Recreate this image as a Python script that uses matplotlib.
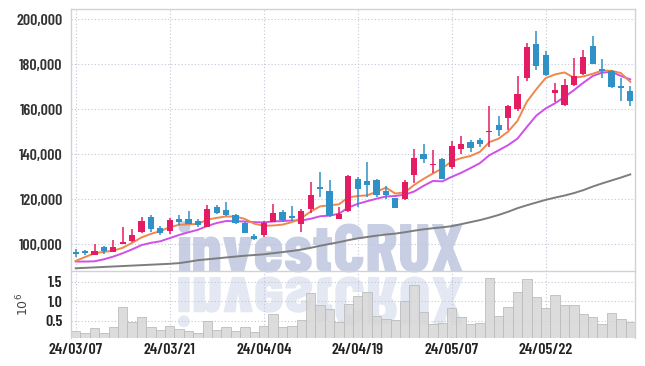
import numpy as np
import matplotlib
matplotlib.use('Agg')
import matplotlib.pyplot as plt
from matplotlib import font_manager
from matplotlib.textpath import TextPath
from matplotlib.patches import PathPatch
from matplotlib.font_manager import FontProperties
from matplotlib.transforms import Affine2D

# daily candles, 2024/03/07 .. 2024/06/04 (KRW)
opens = [96430, 97020, 95100, 98800, 96730, 100280, 101610, 105610, 112280, 107100,
         106060, 111240, 111240, 110210, 107840, 116430, 115240, 113020, 109320, 103840,
         104000, 110060, 114350, 112580, 108890, 115690, 125610, 123690, 111240, 114950,
         129020, 128130, 128570, 123690, 120440, 120000, 130650, 140130, 135090, 137910,
         134500, 142200, 145460, 146350, 149610, 153020, 155980, 159980, 173760, 189010,
         184130, 167090, 161900, 170500, 175680, 188120, 177760, 176720, 170350, 168130]
highs = [97760, 97460, 99990, 99100, 101760, 107540, 106950, 111990, 113170, 108130,
         111540, 113020, 114950, 111240, 117470, 117470, 118950, 113470, 109760, 104580,
         110490, 117910, 115240, 117020, 115540, 127830, 132000, 128570, 116440, 130800,
         130060, 136440, 128900, 126060, 120600, 128570, 142200, 144570, 141910, 138300,
         145610, 147830, 146350, 147090, 161160, 157020, 161900, 174500, 189310, 194490,
         185600, 171530, 173310, 182650, 186350, 192570, 182200, 177460, 173760, 170350]
lows = [94500, 95400, 95100, 95690, 96580, 99990, 100870, 105170, 105470, 104280,
        104580, 108580, 108980, 107840, 107690, 113470, 112580, 108870, 104870, 101910,
        103380, 109760, 110060, 110500, 105330, 113780, 120890, 112000, 111240, 114500,
        116720, 121000, 121170, 120130, 116280, 119690, 127110, 135980, 131540, 129020,
        133320, 140130, 141160, 143090, 143090, 148130, 150500, 158940, 172270, 177460,
        174500, 162940, 161160, 170200, 175240, 179900, 173760, 169300, 163680, 161460]
closes = [95700, 95990, 96880, 97020, 98800, 101170, 104280, 110500, 106650, 104870,
          110800, 109760, 109170, 108720, 115690, 113760, 113020, 109610, 105170, 102210,
          109500, 114060, 110800, 111540, 114800, 121910, 124430, 112580, 113470, 130350,
          124580, 126350, 121910, 121910, 116280, 127830, 138300, 137760, 135540, 129020,
          143690, 144570, 142940, 144570, 150350, 150500, 161160, 166800, 187530, 178940,
          175240, 168270, 170790, 174790, 183090, 180130, 176870, 169610, 169460, 163380]

ma_short = [92600, 94300, 96000, 96600, 97100, 98400, 100600, 103000, 104600, 105800,
            107600, 108600, 108800, 109000, 110900, 111700, 112300, 112300, 111200, 109100,
            108200, 108300, 108700, 109800, 111600, 114500, 116800, 117300, 117700, 120800,
            121400, 121700, 123300, 125100, 122500, 123000, 126300, 129000, 131400, 133700,
            136800, 138200, 139200, 141000, 145300, 146900, 150000, 154800, 163300, 168800,
            173800, 175400, 176300, 173900, 174500, 175700, 177100, 177000, 176000, 172100]
ma_mid = [92300, 92300, 92400, 93300, 94500, 96000, 97700, 99600, 100600, 101300,
          102700, 104100, 105300, 106400, 108100, 109400, 110300, 110200, 110100, 109800,
          109700, 110100, 110300, 110500, 110500, 111300, 112400, 112700, 113500, 116300,
          117900, 119100, 120200, 121200, 121400, 122000, 123400, 125900, 128100, 127900,
          129900, 131700, 133800, 136000, 139500, 141700, 144000, 146900, 152100, 157100,
          160300, 162600, 165400, 168400, 171700, 174700, 176200, 176500, 174700, 173200]
ma_long = [89300, 89500, 89700, 89900, 90100, 90300, 90500, 90700, 90900, 91100,
           91300, 91600, 92200, 92900, 93300, 93700, 94100, 94500, 94900, 95200,
           95500, 96000, 96500, 97000, 97600, 98400, 99300, 100100, 100900, 101800,
           102600, 103200, 103800, 104300, 104700, 105300, 106000, 106600, 107100, 107500,
           108000, 108900, 109800, 110700, 111800, 113000, 114400, 116000, 117300, 118500,
           119700, 120700, 121600, 122700, 124000, 125600, 127000, 128300, 129600, 131000]

# volume in millions
volume = [0.24, 0.19, 0.31, 0.19, 0.33, 0.84, 0.46, 0.59, 0.33, 0.26,
          0.36, 0.29, 0.23, 0.19, 0.49, 0.26, 0.33, 0.24, 0.33, 0.21,
          0.36, 0.67, 0.34, 0.36, 0.52, 1.20, 0.90, 0.80, 0.47, 0.93,
          1.13, 1.24, 0.62, 0.54, 0.52, 1.00, 1.42, 0.72, 0.42, 0.44,
          0.83, 0.60, 0.42, 0.44, 1.60, 0.62, 0.85, 1.24, 1.57, 1.11,
          0.83, 1.16, 0.90, 0.90, 0.67, 0.60, 0.42, 0.70, 0.54, 0.47]

date_pos = [0, 10, 20, 30, 40, 50]
date_labels = ['24/03/07', '24/03/21', '24/04/04', '24/04/19', '24/05/07', '24/05/22']
price_ticks = [100000, 120000, 140000, 160000, 180000, 200000]
vol_ticks = [0.5, 1.0, 1.5]

UP, DOWN = '#e31c63', '#2f91c6'

# narrow bold font if there is one, else plain DejaVu at a smaller size
avail = {f.name for f in font_manager.fontManager.ttflist}
if 'Barlow Condensed' in avail:
    TICKFONT, TICKSIZE, TICKWEIGHT = 'Barlow Condensed', 11.5, 600
    MARKFONT, MARKWEIGHT = 'Barlow Condensed', 800
else:
    TICKFONT, TICKSIZE, TICKWEIGHT = 'DejaVu Sans', 8, 'bold'
    MARKFONT, MARKWEIGHT = 'DejaVu Sans', 'bold'

W, H = 645, 366
fig = plt.figure(figsize=(W / 100, H / 100), dpi=100)


def box(l, t, r, b):
    return [l / W, 1 - b / H, (r - l) / W, (b - t) / H]


ax = fig.add_axes(box(71, 9, 635, 271))
axv = fig.add_axes(box(71, 272, 635, 337.5), sharex=ax)

x = np.arange(len(closes))
o = np.array(opens)
c = np.array(closes)
cols = [UP if cc >= oo else DOWN for oo, cc in zip(o, c)]

# moving averages
ax.plot(x, ma_long, color='#7d7d7d', lw=1.4, zorder=2)
ax.plot(x, ma_mid, color='#d04fe8', lw=1.4, zorder=2)
ax.plot(x, ma_short, color='#f0874c', lw=1.4, zorder=2)

# candles
ax.vlines(x, lows, highs, colors=cols, lw=1.1, zorder=3)
ax.bar(x, np.maximum(np.abs(c - o), 450), bottom=np.minimum(o, c), width=0.68,
       color=cols, zorder=4)

ax.set_xlim(-0.5, len(closes) - 0.5)
ax.set_ylim(88100, 204450)
ax.set_yticks(price_ticks)
ax.set_yticklabels(['{:,}'.format(p) for p in price_ticks])
ax.set_xticks(date_pos)
ax.tick_params(axis='x', labelbottom=False, length=0)
ax.tick_params(axis='y', length=0, pad=6, colors='#333333', labelsize=TICKSIZE)

# volume
axv.bar(x, volume, width=1.0, color='#d6d6d6', edgecolor='#bcbcbc', lw=0.7,
        alpha=0.85, zorder=2)
axv.set_ylim(0.069, 1.75)
axv.set_yticks(vol_ticks)
axv.set_yticklabels(['{:.1f}'.format(v) for v in vol_ticks])
axv.set_xticks(date_pos)
axv.set_xticklabels(date_labels)
axv.tick_params(length=0, colors='#222222', labelsize=TICKSIZE)
axv.tick_params(axis='x', pad=4)
axv.tick_params(axis='y', pad=6)
axv.set_ylabel(r'$\mathregular{10^6}$', fontsize=9, color='#444444')
axv.yaxis.set_label_coords(-0.07, 0.5)

for a in (ax, axv):
    a.patch.set_alpha(0)
    a.grid(True, linestyle=(0, (1, 2)), color='#c3c6da', lw=0.8, zorder=0)
    a.set_axisbelow(True)
    for s in a.spines.values():
        s.set_color('#d2d2d2')
        s.set_linewidth(1.0)
    for lab in a.get_xticklabels() + a.get_yticklabels():
        lab.set_family(TICKFONT)
        lab.set_fontweight(TICKWEIGHT)
axv.spines['top'].set_visible(False)
axv.spines['bottom'].set_visible(False)

# watermark (real text) and its mirrored reflection
fp = FontProperties(family=MARKFONT, weight=MARKWEIGHT)
tp = TextPath((0, 0), 'investCRUX', size=1, prop=fp)
ext = tp.get_extents()
px = (463 - 178) / ext.width          # pixels per em so the word spans the same width
fig.text((178 - ext.x0 * px) / W, (H - 272) / H, 'investCRUX', fontproperties=fp,
         fontsize=px * 72 / 100, color='#c8cfe5', ha='left', va='baseline', zorder=-1)
tr_ref = Affine2D().translate(-ext.x0, 0).scale(px, -px).translate(178, H - 277)
fig.add_artist(PathPatch(tp, transform=tr_ref, facecolor='#e4e8f2',
                         edgecolor='none', zorder=-1))

fig.savefig('out.png', dpi=100, facecolor='white')
